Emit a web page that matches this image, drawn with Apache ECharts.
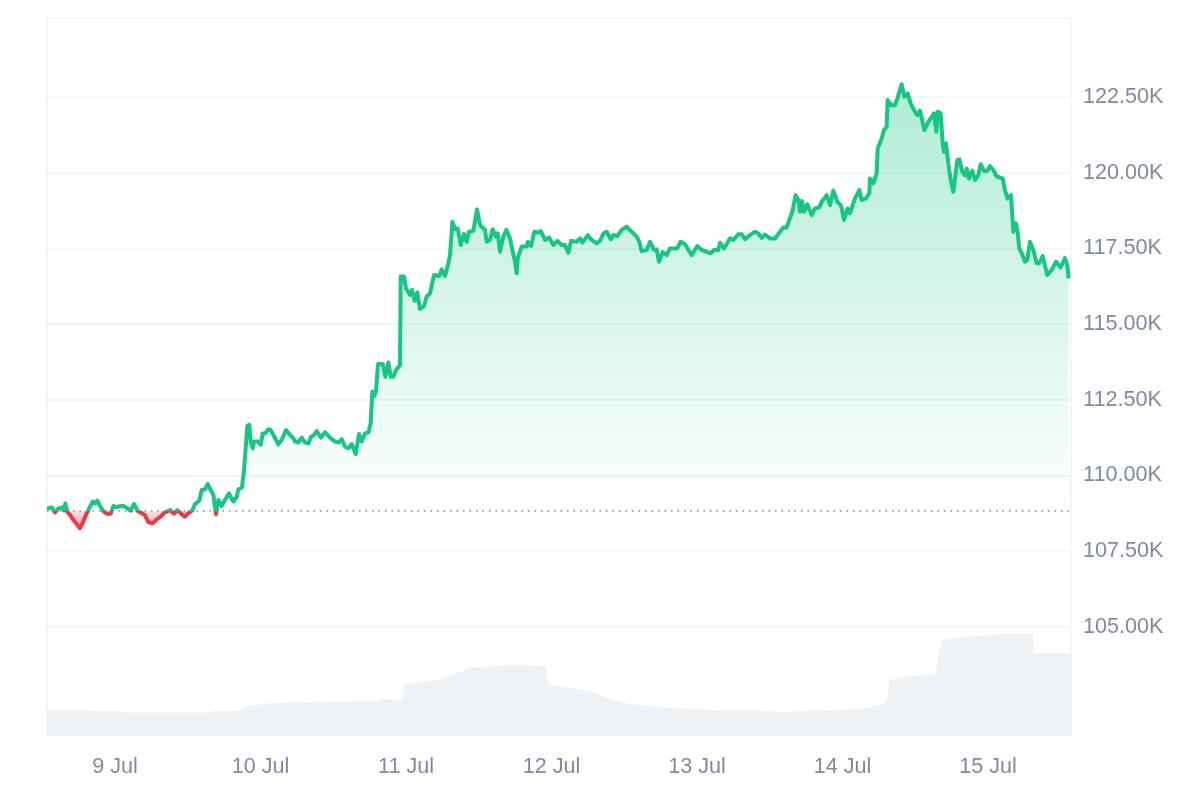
<!DOCTYPE html>
<html><head><meta charset="utf-8">
<style>html,body{margin:0;padding:0;background:#fff}#c{width:1200px;height:800px}</style>
<script src="https://cdn.jsdelivr.net/npm/echarts@6/dist/echarts.min.js"></script>
</head><body><div id="c"></div>
<script>
// hours since 9 Jul 00:00
const priceHours=[-11.22,-11.0,-10.45,-9.9,-9.35,-8.8,-8.41,-8.19,-7.86,-7.42,-6.87,-6.32,-5.77,-5.22,-4.67,-4.12,-3.68,-3.3,-2.91,-2.47,-1.92,-1.37,-0.71,-0.27,0.28,0.83,1.38,2.03,2.58,3.13,3.68,4.4,4.95,5.5,6.21,6.87,7.53,8.08,9.07,9.73,10.28,11.0,11.55,12.1,12.81,13.2,13.91,14.3,14.85,15.29,15.78,16.22,16.66,17.05,17.59,18.14,18.8,19.52,20.07,20.34,20.95,21.28,21.61,21.83,22.16,
22.38,22.71,22.93,23.64,24.03,24.36,24.74,25.29,25.68,26.28,26.94,27.49,28.21,28.87,29.42,29.69,30.24,30.79,31.34,31.89,32.33,32.83,33.27,33.98,34.64,35.46,36.29,36.95,37.39,37.94,38.49,39.04,39.7,40.25,40.69,41.24,41.79,42.17,42.45,42.78,43.05,43.38,44.15,44.59,45.09,45.47,45.91,46.35,47.01,47.12,47.67,48.0,48.28,48.66,48.99,49.43,49.87,50.31,50.97,51.41,51.96,52.62,
53.5,53.89,54.44,54.99,55.26,55.65,56.09,56.53,57.02,57.57,58.01,58.4,59.11,59.71,60.21,61.03,61.31,61.86,62.3,62.79,63.12,63.51,64.06,64.55,65.16,65.54,65.98,66.26,66.42,67.08,67.91,68.07,68.62,69.17,69.72,70.22,70.93,71.59,72.31,72.97,73.68,74.23,74.78,75.22,76.15,76.7,77.09,77.97,78.63,
79.45,80.0,80.55,81.1,81.76,82.2,82.86,83.57,84.4,85.22,86.05,86.49,86.87,87.7,88.25,88.91,89.35,89.73,90.34,91.0,91.55,92.75,93.3,94.02,95.12,96.05,96.77,97.59,98.25,98.8,99.52,99.79,100.45,101.44,101.99,102.82,103.37,103.92,104.74,105.57,106.12,106.66,107.21,108.04,108.86,109.69,110.24,110.79,111.23,111.72,112.0,112.27,112.71,112.99,113.32,113.65,114.2,
114.91,115.46,116.18,116.56,117.39,117.94,118.49,119.15,119.75,120.25,120.85,121.24,122.06,122.78,123.16,123.87,124.42,124.53,125.08,125.63,125.8,126.46,126.84,127.28,127.45,128.0,128.66,129.04,129.76,130.2,130.75,131.24,131.96,132.34,132.78,133.5,134.16,135.09,135.48,135.7,136.19,136.41,
136.52,136.74,137.07,137.45,137.84,138.28,138.55,138.94,139.27,139.76,140.2,140.48,140.86,141.41,141.85,142.4,142.79,143.34,143.89,144.33,144.88,145.43,145.87,146.42,146.8,147.19,147.79,148.18,148.61,148.89,149.16,149.71,150.1,150.48,150.92,151.47,152.02,152.46,153.01,153.78,154.5,155.21,155.98,156.7,157.08,157.3];
// price in thousands of USD
const prices=[108.9,108.95,108.95,108.78,108.91,108.95,108.85,109.08,108.8,108.7,108.53,108.4,108.26,108.48,108.75,108.97,109.14,109.08,109.17,108.99,108.82,108.74,108.74,108.99,108.95,108.99,108.99,108.92,108.84,109.06,108.84,108.76,108.68,108.46,108.42,108.55,108.64,108.76,108.86,108.74,108.86,108.72,108.64,108.76,108.86,109.06,109.17,109.52,109.54,109.72,109.52,109.36,108.72,109.19,108.99,109.19,109.41,109.14,109.3,109.54,109.61,110.18,111.06,111.64,111.67,
111.12,110.9,111.12,111.12,111.01,111.39,111.39,111.53,111.5,111.28,111.03,111.17,111.5,111.34,111.23,111.12,111.09,111.25,111.09,111.06,111.28,111.34,111.47,111.25,111.43,111.25,111.12,111.09,111.2,110.95,110.9,111.04,110.71,111.37,111.12,111.39,111.42,111.72,112.77,112.63,112.79,113.68,113.68,113.26,113.73,113.26,113.26,113.48,113.65,116.57,116.57,116.18,116.15,115.96,116.13,115.77,116.05,115.5,115.6,115.91,116.02,116.62,
116.59,116.81,116.59,117.01,117.28,118.38,118.13,118.16,117.61,117.98,117.72,118.05,118.08,118.79,118.27,118.11,117.72,117.78,118.13,117.89,118.0,117.39,117.89,118.11,117.83,117.45,117.06,116.68,117.17,117.56,117.56,117.72,117.58,118.05,118.02,118.07,117.78,117.86,117.61,117.75,117.61,117.61,117.36,117.75,117.72,117.83,117.69,117.94,117.78,
117.67,117.75,117.99,118.05,117.8,117.94,117.91,118.11,118.22,118.05,117.89,117.72,117.41,117.45,117.72,117.45,117.47,117.06,117.38,117.28,117.5,117.5,117.72,117.64,117.28,117.58,117.45,117.39,117.34,117.45,117.45,117.69,117.5,117.83,117.78,117.97,117.97,117.8,117.94,118.05,117.99,117.85,117.96,117.83,117.83,118.05,118.19,118.19,118.44,118.71,118.77,119.26,119.1,118.71,119.07,118.71,118.96,
118.6,118.82,118.85,119.04,119.26,118.93,119.41,119.04,118.93,118.44,118.82,118.66,119.15,119.43,119.1,119.15,119.32,119.81,119.65,119.98,120.8,121.13,121.41,121.52,122.4,122.23,122.23,122.45,122.92,122.51,122.62,122.29,122.01,121.9,122.05,121.41,121.68,121.96,121.35,122.01,121.96,121.9,
120.97,120.69,120.97,120.31,119.76,119.37,119.81,120.42,120.44,120.03,119.92,120.14,119.81,120.06,119.76,119.92,120.28,120.06,120.06,120.22,120.09,119.87,119.85,119.81,119.43,119.15,119.26,118.05,118.33,118.05,117.5,117.28,117.06,117.12,117.72,117.45,117.01,117.01,117.25,116.62,116.79,117.06,116.87,117.18,116.95,116.51];
const volumeHours=[-11.22,0.82,1.15,15.67,16.0,20.62,21.77,25.9,30.52,43.71,44.04,47.01,47.34,47.67,50.31,53.61,56.91,58.56,60.21,65.16,71.09,71.42,75.05,78.35,81.65,84.95,89.9,94.85,99.8,106.4,109.7,114.6,122.9,126.2,127.3,127.7,131.1,135.4,135.76,136.4,140.2,146.0,151.4,151.6,157.69];
const volumes=[25,24,22.5,22.5,24,24.5,29,32,33,34,36,35,34,51,53,55,63,67,68,70,69,51,47,44,36,31,28,26,25,24.5,23,24.5,26,30,33,55,59,61,80,95,98,101,101,82,82];
const priceTicks=[105,107.5,110,112.5,115,117.5,120,122.5];
const basePrice=108.83;

const t0=new Date(2025,6,9).getTime();
const toTime=h=>t0+h*3600000;
const pricePairs=priceHours.map((h,i)=>[toTime(h),prices[i]]);
const volumePairs=volumeHours.map((h,i)=>[toTime(h),volumes[i]]);
const hi=Math.max(...prices),lo=Math.min(...prices);
const f=(hi-basePrice)/(hi-lo);
const GREEN='#16c784',RED='#ea3943',LINE='#eff2f5',TEXT='#808a9d';
const font='"Liberation Sans",Arial,sans-serif';

const chart=echarts.init(document.getElementById('c'),null,{renderer:'canvas'});
chart.setOption({
  animation:false,backgroundColor:'#fff',
  grid:{left:47,right:129,top:18,bottom:65,show:true,borderColor:LINE,borderWidth:1.5,backgroundColor:'transparent'},
  xAxis:{type:'time',min:toTime(-11.22),max:toTime(157.69),minInterval:86400000,maxInterval:86400000,
    axisLine:{show:false},axisTick:{show:false},splitLine:{show:false},
    axisLabel:{color:TEXT,fontSize:21.6,fontFamily:font,margin:21,showMinLabel:false,showMaxLabel:false,hideOverlap:false,
      formatter:v=>new Date(v).getDate()+' Jul'}},
  yAxis:[{type:'value',position:'right',min:101.43,max:125.11,
    axisLine:{show:false},axisTick:{show:false,customValues:priceTicks},
    splitLine:{show:true,lineStyle:{color:LINE,width:1.5}},
    axisLabel:{color:TEXT,fontSize:21.6,fontFamily:font,margin:12,customValues:priceTicks,
      formatter:v=>v.toFixed(2)+'K'}},
    {type:'value',min:0,max:717,show:false,splitLine:{show:false}}],
  visualMap:{type:'piecewise',show:false,seriesIndex:1,dimension:1,
    pieces:[{gte:100,lt:basePrice,color:RED},{gte:basePrice,lte:130,color:GREEN}]},
  series:[
    {type:'line',name:'Volume',yAxisIndex:1,data:volumePairs,showSymbol:false,silent:true,z:1,
      lineStyle:{width:0},itemStyle:{color:LINE},areaStyle:{color:LINE,opacity:1}},
    {type:'line',name:'Price',yAxisIndex:0,data:pricePairs,showSymbol:false,z:3,
      lineStyle:{width:4,join:'round'},
      areaStyle:{origin:basePrice,opacity:1,color:new echarts.graphic.LinearGradient(0,0,0,1,[
        {offset:0,color:'rgba(22,199,132,0.34)'},
        {offset:f,color:'rgba(22,199,132,0.0)'},
        {offset:f,color:'rgba(234,57,67,0.14)'},
        {offset:1,color:'rgba(234,57,67,0.5)'}])}},
    {type:'line',name:'Base',yAxisIndex:0,data:[[toTime(-11.22),basePrice],[toTime(157.69),basePrice]],
      showSymbol:false,silent:true,z:4,itemStyle:{color:TEXT},
      lineStyle:{color:TEXT,width:1.5,type:[1.5,5]}}
  ]
});
</script></body></html>
